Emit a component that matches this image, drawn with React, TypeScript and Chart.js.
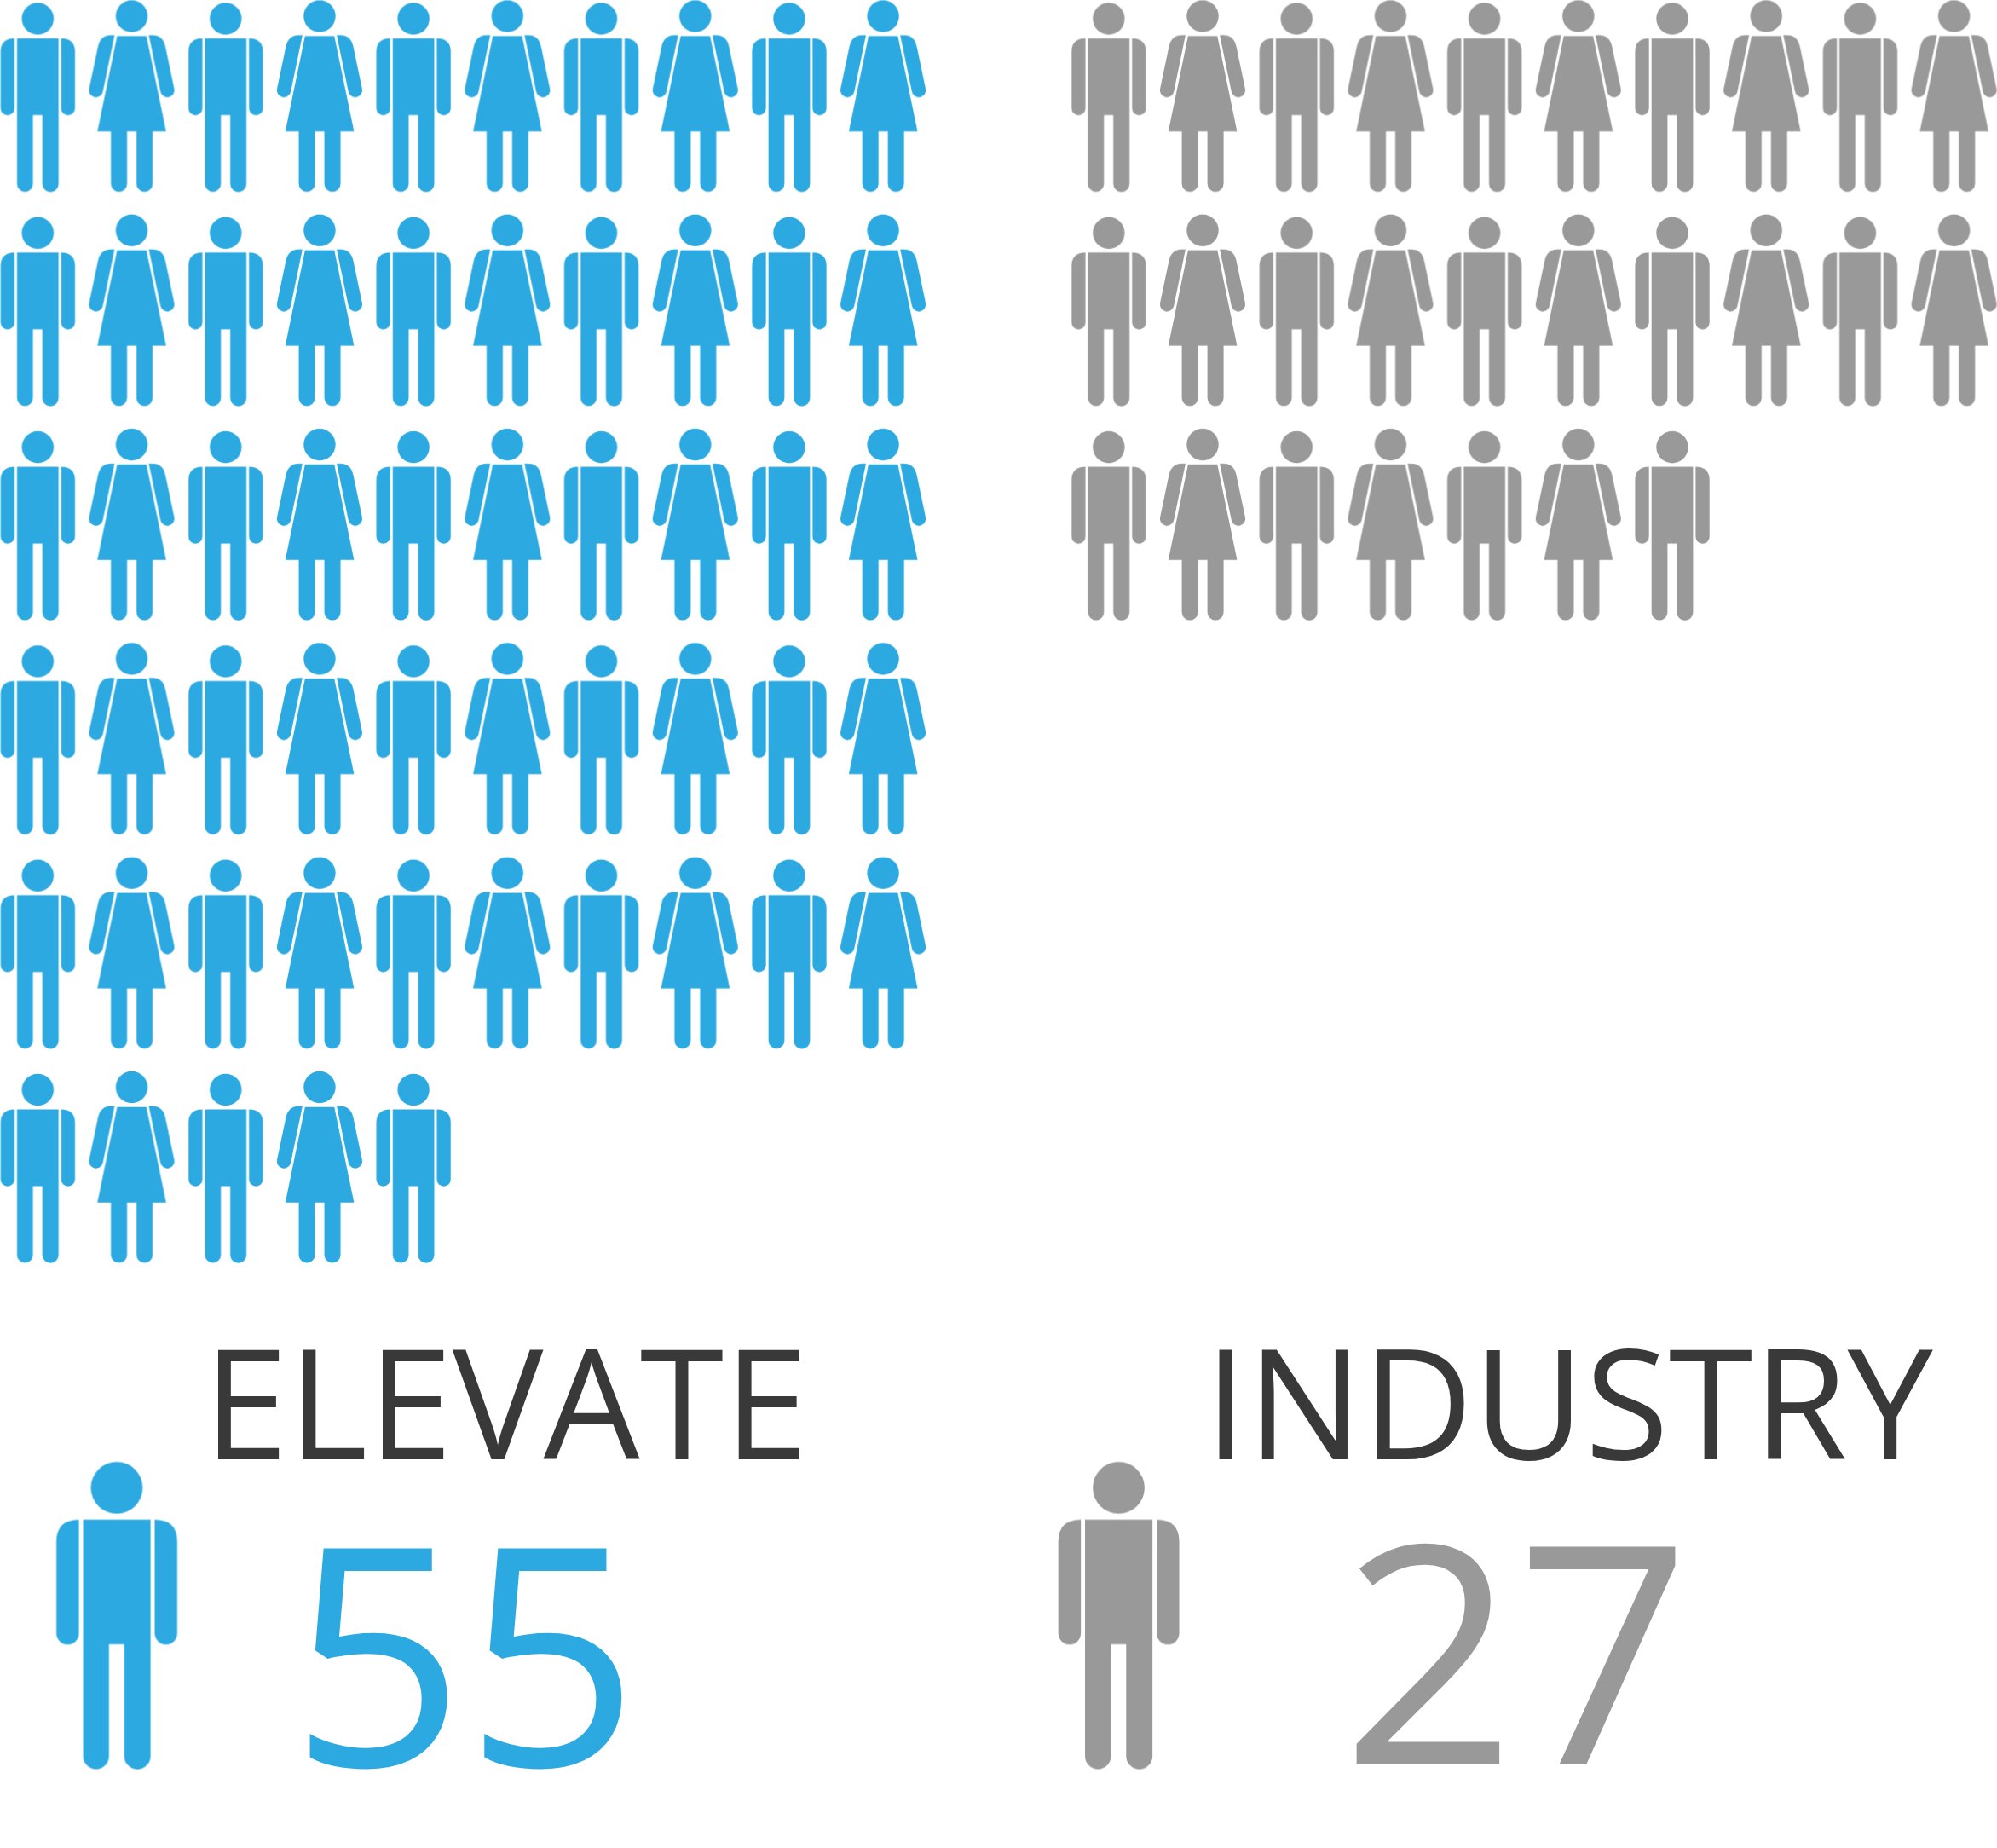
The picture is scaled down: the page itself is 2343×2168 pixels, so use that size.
import React, { useEffect, useRef } from "react";
import { Chart, registerables } from "chart.js";

Chart.register(...registerables);

const WIDTH = 2343;
const HEIGHT = 2168;

// Data: how many people stand in every row of each pictogram block
const groupNames = ["ELEVATE", "INDUSTRY"];
const elevateRows = [10, 10, 10, 10, 10, 5];
const industryRows = [10, 10, 7];
const sum = (a: number[]) => a.reduce((s, v) => s + v, 0);
const groupTotals = [sum(elevateRows), sum(industryRows)];

// Style
const BLUE = "#2CA9E1";
const GRAY = "#999999";
const DARK = "#393939";
const FONT = '"Open Sans", sans-serif';

// Layout: pictogram pitch in pixels and scale origin
const COL_PX = 110.2;
const ROW_PX = 251.3;
const ORIGIN_X = 44.3;
const ORIGIN_Y = 112.5;
const INDUSTRY_COL = 1256.5 / COL_PX;
const BIG_SCALE = 1.625;
const BIG_COL = [(137 - ORIGIN_X) / COL_PX, (1312.5 - ORIGIN_X) / COL_PX];
const BIG_ROW = (1892.5 - ORIGIN_Y) / ROW_PX;
const CELL_W = 110;
const CELL_H = 230;

function drawMan(c: CanvasRenderingContext2D) {
  c.beginPath();
  c.arc(44.3, 22, 18.7, 0, Math.PI * 2);
  c.fill();
  c.beginPath();
  c.moveTo(20, 45);
  c.lineTo(68.7, 45);
  c.lineTo(68.7, 215.7);
  c.arc(59.2, 215.7, 9.5, 0, Math.PI);
  c.lineTo(49.7, 135);
  c.lineTo(38.7, 135);
  c.lineTo(38.7, 215.7);
  c.arc(29.35, 215.7, 9.35, 0, Math.PI);
  c.closePath();
  c.fill();
  const arm = (m: (x: number) => number, ccw: boolean) => {
    c.beginPath();
    c.moveTo(m(17), 45);
    c.lineTo(m(17), 127);
    c.arc(m(8.85), 127, 8.15, ccw ? Math.PI : 0, ccw ? 0 : Math.PI, ccw ? true : false);
    c.lineTo(m(0.7), 61);
    c.quadraticCurveTo(m(0.7), 45, m(17), 45);
    c.closePath();
    c.fill();
  };
  arm((x) => x, false);
  arm((x) => 88.7 - x, true);
}

function drawWoman(c: CanvasRenderingContext2D) {
  const cx = 154.4;
  c.beginPath();
  c.arc(cx, 19, 18.7, 0, Math.PI * 2);
  c.fill();
  c.beginPath();
  c.moveTo(137.3, 42.3);
  c.lineTo(171.7, 42.3);
  c.lineTo(194.8, 154.3);
  c.lineTo(179, 154.3);
  c.lineTo(179, 215.5);
  c.arc(169.5, 215.5, 9.5, 0, Math.PI);
  c.lineTo(160, 154.3);
  c.lineTo(149, 154.3);
  c.lineTo(149, 215.5);
  c.arc(139.5, 215.5, 9.5, 0, Math.PI);
  c.lineTo(130, 154.3);
  c.lineTo(114.2, 154.3);
  c.closePath();
  c.fill();
  for (const side of [1, -1]) {
    const m = (x: number) => (side === 1 ? x : 2 * cx - x);
    c.beginPath();
    c.moveTo(m(134.3), 41.3);
    c.lineTo(m(120.6), 107.6);
    if (side === 1) c.arc(m(112.5), 106, 8.2, 0.2, Math.PI + 0.2, false);
    else c.arc(m(112.5), 106, 8.2, Math.PI - 0.2, -0.2, true);
    c.lineTo(m(115), 54);
    c.quadraticCurveTo(m(118), 41.3, m(130), 41.3);
    c.closePath();
    c.fill();
  }
}

function sprite(kind: "man" | "woman", color: string, scale = 1) {
  const cv = document.createElement("canvas");
  cv.width = Math.ceil(CELL_W * scale);
  cv.height = Math.ceil(CELL_H * scale);
  const c = cv.getContext("2d")!;
  c.fillStyle = color;
  c.translate(cv.width / 2, cv.height / 2);
  c.scale(scale, scale);
  const centre = kind === "man" ? ORIGIN_X : 154.4;
  c.translate(-centre, -ORIGIN_Y);
  if (kind === "man") drawMan(c);
  else drawWoman(c);
  return cv;
}

function rowsToPoints(rows: number[], colOffset: number) {
  const pts: { x: number; y: number }[] = [];
  rows.forEach((n, r) => {
    for (let i = 0; i < n; i++) pts.push({ x: i + colOffset, y: r });
  });
  return pts;
}

function altStyles(rows: number[], man: HTMLCanvasElement, woman: HTMLCanvasElement) {
  const out: HTMLCanvasElement[] = [];
  rows.forEach((n) => {
    for (let i = 0; i < n; i++) out.push(i % 2 === 0 ? man : woman);
  });
  return out;
}

const textPlugin = {
  id: "pictogramText",
  afterDatasetsDraw(chart: Chart) {
    const c = chart.ctx;
    c.save();
    c.textBaseline = "alphabetic";
    c.textAlign = "left";
    const put = (t: string, x: number, y: number, size: number, color: string) => {
      c.font = `400 ${size}px ${FONT}`;
      c.fillStyle = color;
      c.fillText(t, x, y);
    };
    put(groupNames[0], 238.5, 1712, 179, DARK);
    put(groupNames[1], 1413, 1712, 179.5, DARK);
    put(String(groupTotals[0]), 340.5, 2072, 358, BLUE);
    put(String(groupTotals[1]), 1574, 2070, 358, GRAY);
    c.restore();
  },
};

const pointBase = { pointRadius: 0.5, pointBorderWidth: 0, pointHoverRadius: 0.5, borderWidth: 0, showLine: false, clip: false };

export default function App() {
  const ref = useRef<HTMLCanvasElement>(null);
  useEffect(() => {
    const canvas = ref.current!;
    const chart = new Chart(canvas, {
      type: "scatter",
      data: {
        datasets: [
          {
            label: groupNames[0],
            data: rowsToPoints(elevateRows, 0),
            pointStyle: altStyles(elevateRows, sprite("man", BLUE), sprite("woman", BLUE)) as any,
            ...pointBase,
          },
          {
            label: groupNames[1],
            data: rowsToPoints(industryRows, INDUSTRY_COL),
            pointStyle: altStyles(industryRows, sprite("man", GRAY), sprite("woman", GRAY)) as any,
            ...pointBase,
          },
          {
            label: "key " + groupNames[0],
            data: [{ x: BIG_COL[0], y: BIG_ROW }],
            pointStyle: sprite("man", BLUE, BIG_SCALE) as any,
            ...pointBase,
          },
          {
            label: "key " + groupNames[1],
            data: [{ x: BIG_COL[1], y: BIG_ROW }],
            pointStyle: sprite("man", GRAY, BIG_SCALE) as any,
            ...pointBase,
          },
        ],
      },
      options: {
        animation: false,
        responsive: false,
        devicePixelRatio: 1,
        layout: { padding: 0, autoPadding: false },
        plugins: { legend: { display: false }, tooltip: { enabled: false }, title: { display: false } },
        scales: {
          x: {
            type: "linear",
            display: false,
            min: -ORIGIN_X / COL_PX,
            max: (WIDTH - ORIGIN_X) / COL_PX,
          },
          y: {
            type: "linear",
            display: false,
            reverse: true,
            min: -ORIGIN_Y / ROW_PX,
            max: (HEIGHT - ORIGIN_Y) / ROW_PX,
          },
        },
      },
      plugins: [textPlugin],
    } as any);
    return () => chart.destroy();
  }, []);
  return (
    <div style={{ position: "absolute", left: 0, top: 0, width: WIDTH, height: HEIGHT, background: "#fff" }}>
      <canvas ref={ref} width={WIDTH} height={HEIGHT} style={{ display: "block" }} />
    </div>
  );
}
